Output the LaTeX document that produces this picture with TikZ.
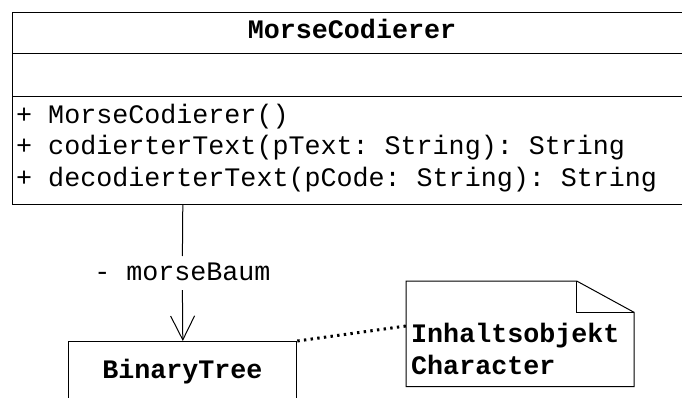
\documentclass[tikz,border=0pt]{standalone}
\usepackage{fontspec}
\setmonofont{Liberation Mono}
\usetikzlibrary{arrows.meta}
\tikzset{
  umlline/.style={draw=black, line width=1pt},
  umltxt/.style={inner sep=0pt, font=\ttfamily\fontsize{26.7}{31.4}\selectfont},
  umlbold/.style={inner sep=0pt, font=\ttfamily\bfseries\fontsize{26.7}{31.4}\selectfont},
  notelink/.style={draw=black, line width=3pt, dash pattern=on 2.4pt off 4.3pt},
}
\begin{document}
\begin{tikzpicture}[x=1pt,y=-1pt]
\useasboundingbox (0,0) rectangle (682,398);
% main class box
\node[umlline, anchor=north west, inner sep=0pt, minimum width=680pt, minimum height=192.3pt] (mc) at (12,11.7) {};
\coordinate (s1l) at (12,54);
\coordinate (s1r) at (692,54);
\coordinate (s2l) at (12,97);
\coordinate (s2r) at (692,97);
\draw[umlline] (s1l) -- (s1r);
\draw[umlline] (s2l) -- (s2r);
\node[umlbold, anchor=base] (title) at (352,38.5) {MorseCodierer};
\node[umltxt, anchor=base west] (m1) at (16,123.3) {+ MorseCodierer()};
\node[umltxt, anchor=base west] (m2) at (16,155) {+ codierterText(pText: String): String};
\node[umltxt, anchor=base west] (m3) at (16,186.3) {+ decodierterText(pCode: String): String};
% BinaryTree box
\node[umlline, anchor=north west, inner sep=0pt, minimum width=228pt, minimum height=80pt] (bt) at (68.3,341) {};
\node[umlbold, anchor=base] (bttxt) at (182.4,378) {BinaryTree};
% association
\node[umltxt, anchor=base, fill=white, text height=19pt, text depth=5.2pt, inner ysep=4.8pt, inner xsep=2pt] (lbl) at (182.4,280) {- morseBaum};
\coordinate (cstart) at (bt.north |- mc.south);
\draw[umlline] (cstart) -- (lbl.north);
\draw[umlline, -{Straight Barb[length=24pt,width=24pt,line width=1pt]}] (lbl.south) -- (bt.north);
% note
\coordinate (nA) at (406,281);
\coordinate (nB) at (576.7,281);
\coordinate (nC) at (634,312.3);
\coordinate (nD) at (634,386.7);
\coordinate (nE) at (406,386.7);
\coordinate (nF) at (576.7,312.3);
\draw[umlline] (nA) -- (nB) -- (nC) -- (nD) -- (nE) -- cycle;
\draw[umlline] (nB) -- (nF) -- (nC);
\node[umlbold, anchor=base west] (n1) at (411,342.5) {Inhaltsobjekt};
\node[umlbold, anchor=base west] (n2) at (411,374) {Character};
\coordinate (nAnchor) at (406,326);
\draw[notelink] (bt.north east) -- (nAnchor);
\end{tikzpicture}
\end{document}
